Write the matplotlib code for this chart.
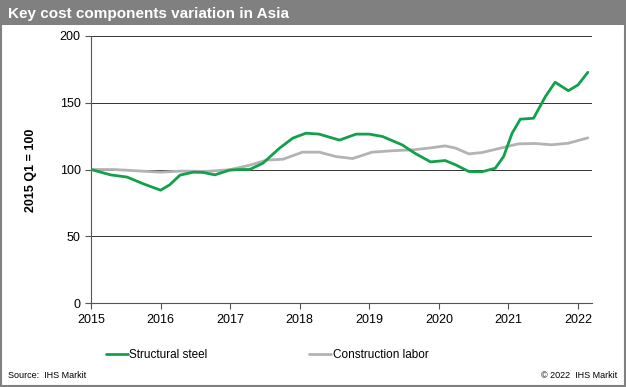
import matplotlib.pyplot as plt
from matplotlib.patches import Rectangle

plt.rcParams['font.family'] = ['Liberation Sans', 'DejaVu Sans']

# values (index, 2015 Q1 = 100)
steel_x = [2015.0, 2015.28, 2015.52, 2015.75, 2016.0, 2016.13, 2016.28, 2016.47, 2016.61,
           2016.78, 2016.99, 2017.14, 2017.28, 2017.47, 2017.71, 2017.9, 2018.09, 2018.28,
           2018.57, 2018.81, 2019.0, 2019.19, 2019.47, 2019.66, 2019.88, 2020.09, 2020.24,
           2020.43, 2020.62, 2020.81, 2020.93, 2021.05, 2021.17, 2021.36, 2021.53, 2021.67,
           2021.86, 2022.0, 2022.14]
steel_y = [100, 96, 94.3, 89.3, 84.5, 88.5, 95.8, 98, 97.8,
           96, 99.5, 100, 100, 104.7, 116, 123.5, 127.2, 126.5,
           122, 126.5, 126.5, 124.7, 118.5, 112, 105.7, 106.7, 103.5,
           98.5, 98.3, 101, 109.7, 127, 137.7, 138.4, 154.6, 165.4,
           159, 163.4, 172.8]

labor_x = [2015.0, 2015.32, 2015.56, 2016.0, 2016.28, 2016.66, 2016.99, 2017.28, 2017.52,
           2017.76, 2018.04, 2018.28, 2018.52, 2018.76, 2019.04, 2019.38, 2019.62, 2019.85,
           2020.09, 2020.24, 2020.43, 2020.62, 2020.86, 2021.14, 2021.38, 2021.62, 2021.86,
           2022.14]
labor_y = [100, 100, 99.3, 98, 98.8, 98.6, 99.8, 103.2, 107,
           107.7, 113, 113, 109.7, 108.2, 113, 114.2, 114.7, 116,
           117.7, 116, 111.7, 112.7, 115.7, 119.2, 119.5, 118.5, 119.7,
           123.7]

years = list(range(2015, 2023))
yticks = [0, 50, 100, 150, 200]

fig = plt.figure(figsize=(6.26, 3.87), dpi=100)
ax = fig.add_axes([91 / 626, 84 / 387, 501 / 626, 267 / 387])

# title bar + frame
fig.patches.append(Rectangle((0, 1 - 25 / 387), 1, 25 / 387, transform=fig.transFigure,
                             facecolor='#808080', edgecolor='none', zorder=0))
fig.patches.append(Rectangle((0.002, 0.003), 0.996, 0.994, transform=fig.transFigure,
                             facecolor='none', edgecolor='#808080', linewidth=1.5, zorder=5))
fig.text(8 / 626, 1 - 14 / 387, 'Key cost components variation in Asia', color='white',
         fontsize=11, fontweight='bold', va='center', ha='left')

ax.plot(steel_x, steel_y, color='#12a14b', linewidth=2.0, solid_capstyle='round',
        solid_joinstyle='round', zorder=3, label='Structural steel')
ax.plot(labor_x, labor_y, color='#b3b3b3', linewidth=2.0, solid_capstyle='round',
        solid_joinstyle='round', zorder=2, label='Construction labor')

ax.set_xlim(2015, 2022.2)
ax.set_ylim(0, 200)
ax.set_xticks(years)
ax.set_yticks(yticks)
ax.tick_params(axis='both', labelsize=9, color='#555555', length=4, direction='out')
ax.tick_params(axis='x', pad=4)
for v in yticks[1:]:
    ax.axhline(v, color='#333333', linewidth=0.7, zorder=1)
for s in ['top', 'right']:
    ax.spines[s].set_visible(False)
for s in ['left', 'bottom']:
    ax.spines[s].set_color('#555555')
    ax.spines[s].set_linewidth(0.8)

fig.text(31 / 626, 1 - 170 / 387, '2015 Q1 = 100', rotation=90, fontsize=9,
         fontweight='bold', ha='center', va='center')

leg = fig.legend(loc='center', bbox_to_anchor=(267 / 626, 1 - 355 / 387), ncol=2, frameon=False,
                 fontsize=8.5, handlelength=1.9, handletextpad=0.1, columnspacing=8.6)

fig.text(8 / 626, 1 - 375 / 387, 'Source:  IHS Markit', fontsize=6.5, ha='left', va='center')
fig.text(617 / 626, 1 - 375 / 387, '© 2022  IHS Markit', fontsize=6.5, ha='right', va='center')

fig.savefig('out.png', dpi=100)
